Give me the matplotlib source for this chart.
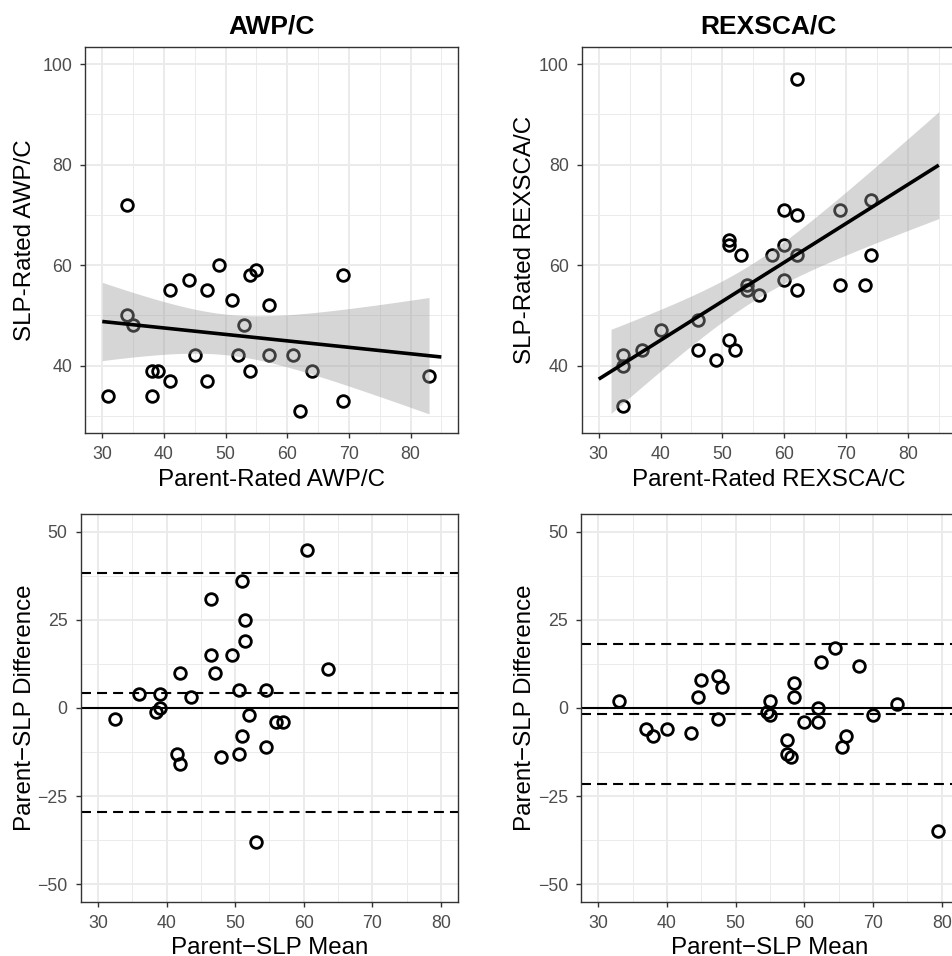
import numpy as np
import matplotlib
matplotlib.use("Agg")
import matplotlib.pyplot as plt

plt.rcParams['font.family'] = ['Liberation Sans', 'DejaVu Sans']

# ---------------- data ----------------
awp_parent = [34, 34, 35, 31, 38, 39, 38, 41, 41, 44, 45, 47, 47, 49, 51, 52, 53, 54, 55, 54,
              57, 57, 61, 62, 64, 69, 69, 83]
awp_slp    = [72, 50, 48, 34, 39, 39, 34, 55, 37, 57, 42, 55, 37, 60, 53, 42, 48, 58, 59, 39,
              52, 42, 42, 31, 39, 58, 33, 38]

rex_parent = [62, 60, 62, 69, 74, 51, 51, 53, 58, 60, 62, 74, 54, 54, 56, 60, 62, 69, 73, 46,
              46, 40, 37, 34, 34, 34, 49, 51, 52]
rex_slp    = [97, 71, 70, 71, 73, 65, 64, 62, 62, 64, 62, 62, 56, 55, 54, 57, 55, 56, 56, 49,
              43, 47, 43, 42, 40, 32, 41, 45, 43]

# Bland-Altman reference lines (bias, upper LoA, lower LoA)
awp_ba_lines = [4.3, 38.2, -29.4]
rex_ba_lines = [-1.8, 18.1, -21.6]

# ranges used for fitted line / ribbon
awp_line_range = [30, 85]
awp_ribbon_range = [30, 83]
rex_line_range = [30, 85]
rex_ribbon_range = [32, 85]

titles = ["AWP/C", "REXSCA/C"]
top_xlabels = ["Parent-Rated AWP/C", "Parent-Rated REXSCA/C"]
top_ylabels = ["SLP-Rated AWP/C", "SLP-Rated REXSCA/C"]
bot_xlabel = "Parent\u2212SLP Mean"
bot_ylabel = "Parent\u2212SLP Difference"

# t quantiles (0.975) for df = n - 2
t_vals = {26: 2.0555, 27: 2.0518}

# ---------------- figure ----------------
W, H = 953, 956
fig = plt.figure(figsize=(W / 100, H / 100), dpi=100)

def ax_at(l, r, t, b):
    ax = fig.add_axes([l / W, 1 - b / H, (r - l) / W, (b - t) / H])
    ax._px = (l, r, t, b)
    return ax

ax_tl = ax_at(85.3, 458.3, 46.7, 433.3)
ax_tr = ax_at(581.7, 955.8, 46.7, 433.3)
ax_bl = ax_at(80.7, 458.3, 514.3, 901.7)
ax_br = ax_at(581.0, 958.9, 514.3, 901.7)

TICK_COL = '#4D4D4D'
EDGE_COL = '#333333'
LABEL_FS = 17.4

def style(ax, xmaj, xmin, ymaj, ymin, xlim, ylim):
    ax.set_xlim(*xlim)
    ax.set_ylim(*ylim)
    ax.set_xticks(xmaj)
    ax.set_xticks(xmin, minor=True)
    ax.set_yticks(ymaj)
    ax.set_yticks(ymin, minor=True)
    ax.grid(which='major', color='#EBEBEB', linewidth=1.4, zorder=0)
    ax.grid(which='minor', color='#EBEBEB', linewidth=0.7, zorder=0)
    ax.set_axisbelow(True)
    for s in ax.spines.values():
        s.set_color(EDGE_COL)
        s.set_linewidth(1.0)
    ax.tick_params(which='major', length=3.6, width=1.0, color=EDGE_COL,
                   labelsize=12.8, labelcolor=TICK_COL, pad=5.8)
    ax.tick_params(which='minor', length=0)

def place_labels(ax, xlabel, ylabel, xlab_top_px, ylab_center_px):
    l, r, t, b = ax._px
    ax.set_xlabel(xlabel, fontsize=LABEL_FS)
    ax.set_ylabel(ylabel, fontsize=LABEL_FS)
    em = LABEL_FS * 100 / 72
    ax.xaxis.set_label_coords(0.5, -(xlab_top_px - b) / (b - t))
    right_edge = ylab_center_px + 0.57 * em
    ax.yaxis.set_label_coords((right_edge - l) / (r - l), 0.5)

def scatter_pts(ax, x, y):
    ax.plot(x, y, linestyle='none', marker='o', markersize=8.4,
            markerfacecolor='none', markeredgecolor='black',
            markeredgewidth=2.0, zorder=3)

def fit_panel(ax, x, y, line_rng, rib_rng):
    x = np.asarray(x, float)
    y = np.asarray(y, float)
    n = len(x)
    b, a = np.polyfit(x, y, 1)
    resid = y - (a + b * x)
    s = np.sqrt(np.sum(resid ** 2) / (n - 2))
    sxx = np.sum((x - x.mean()) ** 2)
    t = t_vals[n - 2]
    xr = np.linspace(rib_rng[0], rib_rng[1], 200)
    yr = a + b * xr
    se = s * np.sqrt(1.0 / n + (xr - x.mean()) ** 2 / sxx)
    ax.fill_between(xr, yr - t * se, yr + t * se, color='#999999', alpha=0.4,
                    linewidth=0, zorder=4)
    xl = np.array(line_rng, float)
    ax.plot(xl, a + b * xl, color='black', linewidth=2.6, zorder=5,
            solid_capstyle='butt')

top_lim_x = (27.25, 87.75)
top_lim_y = (26.5, 103.5)
top_xmaj = [30, 40, 50, 60, 70, 80]
top_xmin = [35, 45, 55, 65, 75, 85]
top_ymaj = [40, 60, 80, 100]
top_ymin = [30, 50, 70, 90]

bot_lim_x = (27.5, 82.5)
bot_lim_y = (-55, 55)
bot_xmaj = [30, 40, 50, 60, 70, 80]
bot_xmin = [35, 45, 55, 65, 75]
bot_ymaj = [-50, -25, 0, 25, 50]
bot_ymin = [-37.5, -12.5, 12.5, 37.5]

panels_top = [(ax_tl, awp_parent, awp_slp, awp_line_range, awp_ribbon_range, 22.5),
              (ax_tr, rex_parent, rex_slp, rex_line_range, rex_ribbon_range, 522.0)]
for i, (ax, px, sy, lr, rr, ylc) in enumerate(panels_top):
    style(ax, top_xmaj, top_xmin, top_ymaj, top_ymin, top_lim_x, top_lim_y)
    scatter_pts(ax, px, sy)
    fit_panel(ax, px, sy, lr, rr)
    l, r, t, b = ax._px
    ax.text(0.5, 1 + (t - 33.3) / (b - t), titles[i], transform=ax.transAxes,
            ha='center', va='baseline', fontsize=19, fontweight='bold')
    place_labels(ax, top_xlabels[i], top_ylabels[i], 469.0, ylc)

panels_bot = [(ax_bl, awp_parent, awp_slp, awp_ba_lines, 22.5),
              (ax_br, rex_parent, rex_slp, rex_ba_lines, 522.0)]
for ax, px, sy, lines, ylc in panels_bot:
    style(ax, bot_xmaj, bot_xmin, bot_ymaj, bot_ymin, bot_lim_x, bot_lim_y)
    px = np.asarray(px, float)
    sy = np.asarray(sy, float)
    mean = (px + sy) / 2
    diff = px - sy
    ax.axhline(0, color='black', linewidth=1.5, zorder=2)
    for v in lines:
        ax.axhline(v, color='black', linewidth=1.5, linestyle=(0, (4.8, 2.9)), zorder=2)
    scatter_pts(ax, mean, diff)
    place_labels(ax, bot_xlabel, bot_ylabel, 936.7, ylc)

fig.savefig('out.png', dpi=100, facecolor='white')
